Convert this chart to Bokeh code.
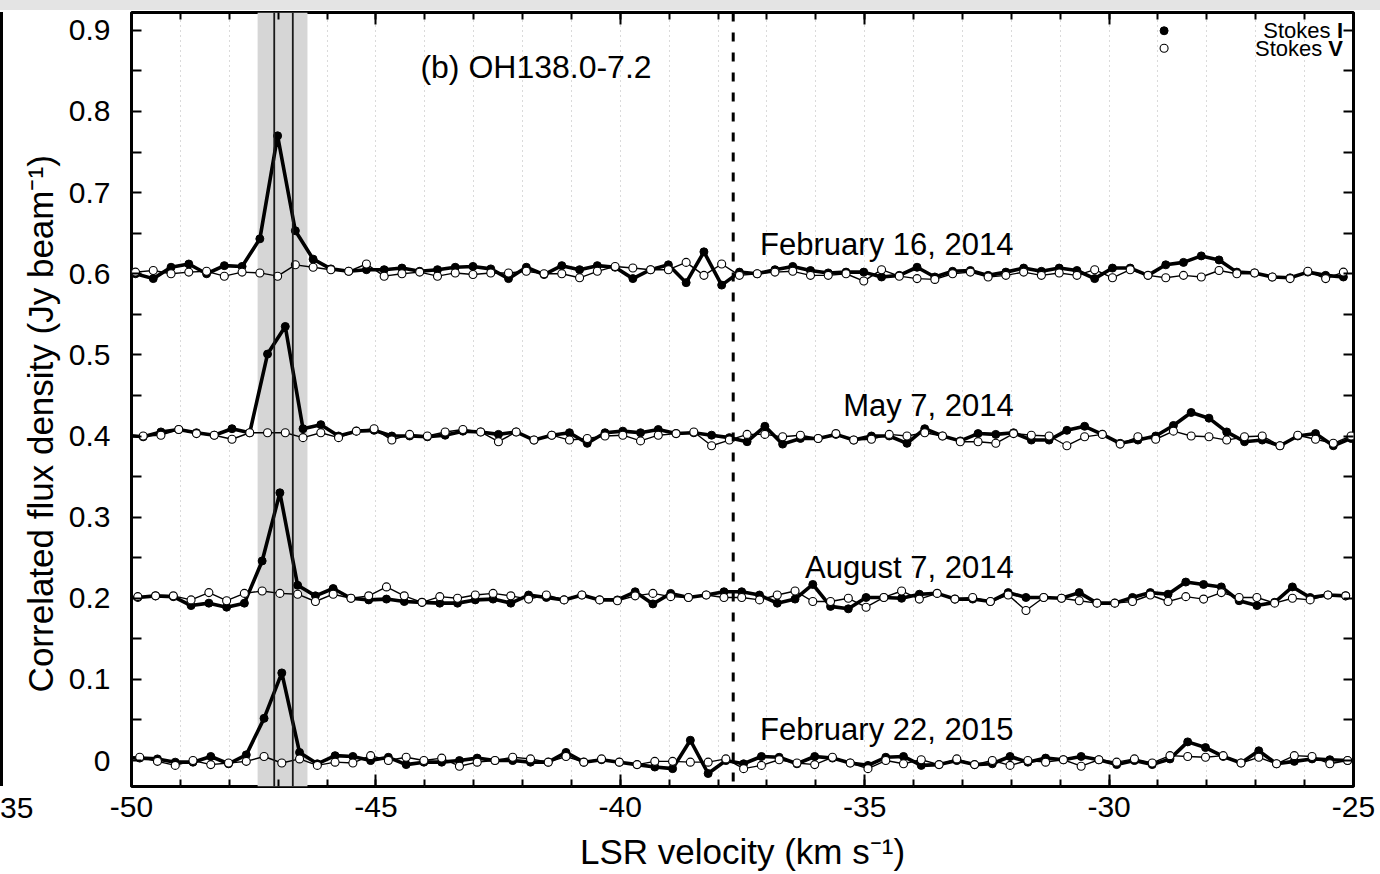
from bokeh.plotting import figure
from bokeh.models import (Span, BoxAnnotation, Label, FixedTicker, LinearAxis, Range1d,
                          CustomJSTickFormatter, Div)
from bokeh.layouts import column, row
from bokeh.embed import file_html
from bokeh.resources import INLINE

# ---------------- data ----------------
# channel velocities (km/s) of the February 16, 2014 spectrum
channel_velocity = [
    -50.281, -49.918, -49.555, -49.191, -48.828, -48.464, -48.101, -47.738, -47.374, -47.011,
    -46.648, -46.284, -45.921, -45.557, -45.194, -44.831, -44.467, -44.104, -43.740, -43.377,
    -43.014, -42.650, -42.287, -41.923, -41.560, -41.197, -40.833, -40.470, -40.106, -39.743,
    -39.380, -39.016, -38.653, -38.289, -37.926, -37.563, -37.199, -36.836, -36.472, -36.109,
    -35.746, -35.382, -35.019, -34.655, -34.292, -33.929, -33.565, -33.202, -32.838, -32.475,
    -32.112, -31.748, -31.385, -31.021, -30.658, -30.295, -29.931, -29.568, -29.204, -28.841,
    -28.478, -28.114, -27.751, -27.387, -27.024, -26.661, -26.297, -25.934, -25.570, -25.207]

epoch_names = ["February 16, 2014", "May 7, 2014", "August 7, 2014", "February 22, 2015"]
# channel-grid shift of each epoch relative to channel_velocity (km/s)
epoch_velocity_shift = [0.0, 0.157, 0.047, 0.086]

stokes_i_feb2014 = [
    0.602, 0.600, 0.594, 0.608, 0.612, 0.600, 0.610, 0.609, 0.643, 0.770,
    0.653, 0.618, 0.606, 0.603, 0.605, 0.605, 0.607, 0.603, 0.605, 0.608,
    0.609, 0.606, 0.594, 0.608, 0.599, 0.610, 0.605, 0.610, 0.608, 0.594,
    0.605, 0.611, 0.589, 0.627, 0.586, 0.602, 0.600, 0.605, 0.609, 0.604,
    0.601, 0.602, 0.602, 0.596, 0.598, 0.608, 0.596, 0.603, 0.604, 0.598,
    0.602, 0.607, 0.603, 0.607, 0.604, 0.594, 0.607, 0.607, 0.598, 0.611,
    0.614, 0.622, 0.617, 0.602, 0.601, 0.596, 0.595, 0.602, 0.598, 0.596]
stokes_v_feb2014 = [
    0.601, 0.602, 0.604, 0.600, 0.602, 0.603, 0.597, 0.602, 0.601, 0.597,
    0.611, 0.608, 0.605, 0.603, 0.612, 0.597, 0.600, 0.602, 0.597, 0.601,
    0.599, 0.601, 0.601, 0.603, 0.600, 0.600, 0.595, 0.603, 0.609, 0.607,
    0.605, 0.605, 0.614, 0.598, 0.612, 0.598, 0.600, 0.602, 0.603, 0.598,
    0.598, 0.600, 0.591, 0.605, 0.597, 0.594, 0.593, 0.600, 0.602, 0.596,
    0.598, 0.602, 0.598, 0.601, 0.598, 0.605, 0.595, 0.605, 0.598, 0.595,
    0.598, 0.596, 0.604, 0.600, 0.601, 0.596, 0.594, 0.603, 0.594, 0.602]

stokes_i_may2014 = [
    0.401, 0.399, 0.405, 0.408, 0.404, 0.401, 0.409, 0.404, 0.501, 0.535,
    0.409, 0.414, 0.400, 0.406, 0.407, 0.400, 0.400, 0.399, 0.401, 0.406,
    0.405, 0.402, 0.405, 0.395, 0.401, 0.404, 0.391, 0.404, 0.406, 0.404,
    0.408, 0.403, 0.404, 0.401, 0.398, 0.393, 0.412, 0.390, 0.397, 0.397,
    0.402, 0.395, 0.400, 0.400, 0.391, 0.409, 0.400, 0.394, 0.403, 0.402,
    0.404, 0.395, 0.395, 0.407, 0.412, 0.402, 0.391, 0.395, 0.400, 0.413,
    0.429, 0.422, 0.405, 0.393, 0.395, 0.388, 0.400, 0.403, 0.388, 0.397]
stokes_v_may2014 = [
    0.401, 0.400, 0.401, 0.408, 0.403, 0.401, 0.396, 0.404, 0.404, 0.404,
    0.398, 0.404, 0.398, 0.406, 0.409, 0.395, 0.402, 0.400, 0.405, 0.408,
    0.405, 0.393, 0.405, 0.395, 0.401, 0.395, 0.397, 0.400, 0.401, 0.394,
    0.401, 0.403, 0.405, 0.388, 0.395, 0.402, 0.402, 0.399, 0.401, 0.397,
    0.403, 0.395, 0.396, 0.402, 0.400, 0.404, 0.400, 0.393, 0.393, 0.391,
    0.403, 0.401, 0.400, 0.388, 0.399, 0.402, 0.390, 0.399, 0.396, 0.406,
    0.400, 0.399, 0.395, 0.399, 0.400, 0.388, 0.401, 0.396, 0.391, 0.400]

stokes_i_aug2014 = [
    0.201, 0.201, 0.203, 0.202, 0.191, 0.194, 0.189, 0.194, 0.246, 0.330,
    0.216, 0.203, 0.212, 0.200, 0.198, 0.199, 0.196, 0.195, 0.194, 0.194,
    0.198, 0.199, 0.194, 0.204, 0.201, 0.198, 0.204, 0.198, 0.198, 0.208,
    0.193, 0.206, 0.201, 0.204, 0.208, 0.208, 0.204, 0.194, 0.199, 0.217,
    0.190, 0.187, 0.201, 0.201, 0.200, 0.205, 0.206, 0.199, 0.199, 0.196,
    0.207, 0.201, 0.201, 0.200, 0.207, 0.194, 0.194, 0.201, 0.207, 0.205,
    0.220, 0.217, 0.214, 0.197, 0.191, 0.195, 0.214, 0.201, 0.204, 0.203]
stokes_v_aug2014 = [
    0.202, 0.202, 0.203, 0.203, 0.198, 0.207, 0.197, 0.206, 0.209, 0.206,
    0.205, 0.196, 0.205, 0.200, 0.203, 0.214, 0.203, 0.195, 0.202, 0.200,
    0.204, 0.206, 0.203, 0.199, 0.204, 0.198, 0.204, 0.198, 0.197, 0.203,
    0.206, 0.202, 0.201, 0.204, 0.201, 0.201, 0.198, 0.204, 0.209, 0.196,
    0.196, 0.200, 0.189, 0.201, 0.209, 0.199, 0.206, 0.199, 0.201, 0.196,
    0.204, 0.185, 0.201, 0.200, 0.197, 0.194, 0.194, 0.196, 0.204, 0.196,
    0.202, 0.199, 0.207, 0.201, 0.201, 0.194, 0.200, 0.198, 0.204, 0.203]

stokes_i_feb2015 = [
    0.004, 0.003, 0.002, -0.002, -0.002, 0.005, -0.004, 0.007, 0.052, 0.108,
    0.010, -0.004, 0.006, 0.005, 0.000, 0.004, -0.005, -0.002, -0.002, 0.000,
    0.003, 0.000, 0.000, -0.002, -0.002, 0.010, -0.002, 0.001, -0.002, -0.005,
    -0.008, -0.010, 0.025, -0.016, 0.000, -0.004, 0.005, 0.004, -0.004, 0.005,
    0.003, -0.003, -0.006, 0.004, 0.005, -0.006, -0.005, 0.000, -0.005, -0.004,
    0.005, -0.002, 0.003, 0.001, 0.005, 0.001, -0.005, 0.000, -0.005, 0.002,
    0.023, 0.016, 0.005, -0.003, 0.012, -0.004, -0.001, 0.002, 0.001, 0.000]
stokes_v_feb2015 = [
    0.003, 0.004, -0.001, -0.006, 0.000, -0.005, -0.003, -0.001, 0.005, -0.003,
    0.002, -0.006, -0.002, -0.003, 0.006, 0.000, 0.004, 0.000, 0.003, -0.007,
    -0.002, 0.000, 0.004, 0.002, -0.002, 0.005, -0.002, 0.002, -0.002, -0.005,
    -0.001, -0.001, -0.002, -0.002, 0.002, -0.010, -0.006, 0.001, -0.003, -0.005,
    0.004, -0.003, -0.010, 0.000, -0.004, 0.001, -0.005, 0.002, -0.005, 0.000,
    -0.006, 0.000, -0.002, 0.001, -0.007, 0.001, -0.002, 0.002, -0.003, 0.006,
    0.005, 0.004, 0.006, -0.003, 0.004, -0.004, 0.006, 0.005, -0.004, 0.000]

stokes_i_all = [stokes_i_feb2014, stokes_i_may2014, stokes_i_aug2014, stokes_i_feb2015]
stokes_v_all = [stokes_v_feb2014, stokes_v_may2014, stokes_v_aug2014, stokes_v_feb2015]

# label positions of each epoch (velocity, flux)
epoch_label_x = [-37.14, -35.44, -36.22, -37.14]
epoch_label_y = [0.636, 0.438, 0.238, 0.038]

feature_velocities = [-47.08, -46.70]        # solid vertical lines
feature_band = [-47.42, -46.40]              # grey shaded band
systemic_velocity = -37.69                   # dashed line

x_major = [-50, -45, -40, -35, -30, -25]
x_minor = [v for v in range(-50, -24)]
y_major = [0.0, 0.1, 0.2, 0.3, 0.4, 0.5, 0.6, 0.7, 0.8, 0.9]
y_minor = [0.05, 0.15, 0.25, 0.35, 0.45, 0.55, 0.65, 0.75, 0.85]

FONT = "Liberation Sans"
NBSP = "\u00a0"
LEFT_W = 14

p = figure(width=1380 - LEFT_W, height=864, output_backend="svg", toolbar_location=None,
           x_range=Range1d(-50, -25), y_range=Range1d(-0.032, 0.922),
           min_border_left=131 - LEFT_W, min_border_right=27, min_border_top=2,
           min_border_bottom=88,
           x_axis_label="LSR velocity (km s\u207b\u00b9)",
           y_axis_label="Correlated flux density (Jy beam\u207b\u00b9)" + NBSP * 5)
p.background_fill_color = "white"
p.border_fill_color = None
p.outline_line_color = "black"
p.outline_line_width = 3

# grid: dotted vertical lines at every km/s
p.ygrid.visible = False
p.xgrid.ticker = FixedTicker(ticks=x_minor)
p.xgrid.grid_line_color = "#b4b4b4"
p.xgrid.grid_line_dash = "1 4"
p.xgrid.grid_line_width = 1

# shaded band + lines
band = BoxAnnotation(left=feature_band[0], right=feature_band[1], fill_color="#d6d6d6",
                     fill_alpha=1.0, line_color=None, level="underlay")
p.add_layout(band)
for fv in feature_velocities:
    p.add_layout(Span(location=fv, dimension="height", line_color="#1a1a1a", line_width=1.8))
p.add_layout(Span(location=systemic_velocity, dimension="height", line_color="black",
                  line_width=3, line_dash="9 11"))

# spectra
for k in range(4):
    vel = [v + epoch_velocity_shift[k] for v in channel_velocity]
    p.line(vel, stokes_i_all[k], line_color="black", line_width=3.6)
    p.scatter(vel, stokes_i_all[k], size=8, marker="circle", fill_color="black", line_color="black")
for k in range(4):
    vel = [v + epoch_velocity_shift[k] for v in channel_velocity]
    p.line(vel, stokes_v_all[k], line_color="black", line_width=1.4)
    p.scatter(vel, stokes_v_all[k], size=8, marker="circle", fill_color="white",
              line_color="black", line_width=1.1)

# epoch labels
for k in range(4):
    p.add_layout(Label(x=epoch_label_x[k], y=epoch_label_y[k], text=epoch_names[k],
                       text_font=FONT, text_font_size="31px", text_color="black",
                       text_baseline="alphabetic", text_align="left"))
p.add_layout(Label(x=-44.09, y=0.8545, text="(b) OH138.0-7.2", text_font=FONT,
                   text_font_size="32px", text_color="black", text_baseline="alphabetic"))

# legend (gnuplot style)
leg_x_marker = -28.875
leg_row_y = [0.8995, 0.8780]
p.scatter([leg_x_marker], [leg_row_y[0]], size=8, marker="circle",
          fill_color="black", line_color="black")
p.scatter([leg_x_marker], [leg_row_y[1]], size=8, marker="circle",
          fill_color="white", line_color="black", line_width=1.1)
LEG_FS = "22px"
p.add_layout(Label(x=-25.470, y=leg_row_y[0], text="Stokes", text_font=FONT, text_font_size=LEG_FS,
                   text_align="right", text_baseline="middle", text_color="black"))
p.add_layout(Label(x=-25.215, y=leg_row_y[0], text="I", text_font=FONT, text_font_size=LEG_FS,
                   text_font_style="bold", text_align="right", text_baseline="middle",
                   text_color="black"))
p.add_layout(Label(x=-25.640, y=leg_row_y[1], text="Stokes", text_font=FONT, text_font_size=LEG_FS,
                   text_align="right", text_baseline="middle", text_color="black"))
p.add_layout(Label(x=-25.215, y=leg_row_y[1], text="V", text_font=FONT, text_font_size=LEG_FS,
                   text_font_style="bold", text_align="right", text_baseline="middle",
                   text_color="black"))

# axes
def style_axis(ax, ticks, minor, tick_in, minor_in, show_labels, fmt):
    ax.ticker = FixedTicker(ticks=ticks, minor_ticks=minor)
    ax.major_tick_in = tick_in
    ax.major_tick_out = 0
    ax.minor_tick_in = minor_in
    ax.minor_tick_out = 0
    ax.major_tick_line_width = 2
    ax.minor_tick_line_width = 2
    ax.major_tick_line_color = "black"
    ax.minor_tick_line_color = "black"
    ax.axis_line_color = None
    if show_labels:
        ax.formatter = CustomJSTickFormatter(code=fmt)
        ax.major_label_text_font = FONT
        ax.major_label_text_font_size = "30px"
        ax.major_label_text_color = "black"
        ax.axis_label_text_font = FONT
        ax.axis_label_text_font_size = "35px"
        ax.axis_label_text_font_style = "normal"
        ax.axis_label_text_color = "black"
    else:
        ax.formatter = CustomJSTickFormatter(code="return '';")
        ax.major_label_standoff = 0
        ax.major_label_text_font_size = "0px"

xfmt = "return tick.toFixed(0);"
yfmt = "return Math.abs(tick) < 1e-9 ? '0' : tick.toFixed(1);"
style_axis(p.xaxis[0], x_major, x_minor, 12, 7, True, xfmt)
style_axis(p.yaxis[0], y_major, y_minor, 10, 10, True, yfmt)
p.xaxis[0].major_label_standoff = 10
p.xaxis[0].axis_label_standoff = 12
p.yaxis[0].major_label_standoff = 21
p.yaxis[0].axis_label_standoff = 6

top_ax = LinearAxis()
right_ax = LinearAxis()
style_axis(top_ax, x_major, x_minor, 12, 7, False, None)
style_axis(right_ax, y_major, y_minor, 10, 10, False, None)
p.add_layout(top_ax, "above")
p.add_layout(right_ax, "right")

# screenshot framing: grey strip on top, edge of the neighbouring panel on the left
top_strip = Div(text="", width=1380, height=10,
                styles={"background-color": "#e4e4e4", "margin": "0", "padding": "0"})
left_edge = Div(
    text=('<div style="position:relative;width:%dpx;height:864px;">'
          '<div style="position:absolute;left:0px;top:2px;width:3px;height:774px;background:#000;"></div>'
          '<div style="position:absolute;left:0px;top:783px;font-family:\'Liberation Sans\';'
          'font-size:30px;line-height:30px;color:#000;white-space:nowrap;">35</div></div>') % LEFT_W,
    width=LEFT_W, height=864, styles={"margin": "0", "padding": "0", "overflow": "visible"})

layout = column(top_strip, row(left_edge, p, spacing=0), spacing=0)

open("out.html", "w").write(file_html(layout, INLINE))
